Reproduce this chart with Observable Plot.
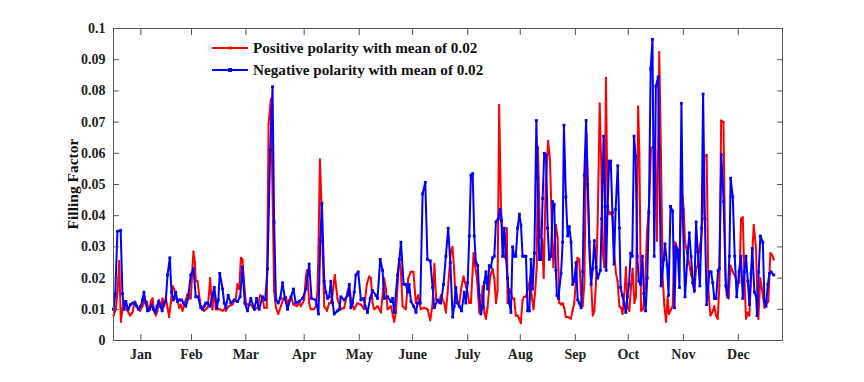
<!DOCTYPE html>
<html>
<head>
<meta charset="utf-8">
<script src="https://cdn.jsdelivr.net/npm/d3@7"></script>
<script src="https://cdn.jsdelivr.net/npm/@observablehq/plot@0.6"></script>
<style>
  html, body { margin: 0; padding: 0; background: #fff; }
  #wrap { position: relative; width: 864px; height: 382px; overflow: hidden; font-family: "Liberation Serif", "DejaVu Serif", serif; }
  #legend { position: absolute; left: 211px; top: 37px; font-weight: bold; font-size: 15.2px; color: #111; }
  .row { display: flex; align-items: center; height: 22px; white-space: nowrap; }
  .row svg { margin-right: 4px; }
  #ylabel { position: absolute; left: 73px; top: 184px; transform: translate(-50%, -50%) rotate(-90deg); font-weight: bold; font-size: 15.5px; white-space: nowrap; color: #111; }
</style>
</head>
<body>
<div id="wrap">
  <div id="chart"></div>
  <div id="legend"></div>
  <div id="ylabel">Filling Factor</div>
</div>
<script>
// Tick positions (day of year) and labels
const monthTicks = [15.3, 43.6, 74, 106.6, 137.4, 167.2, 198, 227.4, 258.2, 287.8, 318.6, 349.3];
const monthLabels = ["Jan", "Feb", "Mar", "Apr", "May", "June", "July", "Aug", "Sep", "Oct", "Nov", "Dec"];
const yTicks = [0, 0.01, 0.02, 0.03, 0.04, 0.05, 0.06, 0.07, 0.08, 0.09, 0.1];
const yTickLabels = ["0", "0.01", "0.02", "0.03", "0.04", "0.05", "0.06", "0.07", "0.08", "0.09", "0.1"];
const seriesNames = ["Positive polarity with mean of 0.02", "Negative polarity with mean of 0.02"];

// Positive polarity: [day, filling factor]
const positive = [[0,0.008],[1.3,0.010],[2.3,0.016],[3.2,0.0255],[4.1,0.006],[5.6,0.0125],[6.9,0.0125],[7.8,0.0095],[9.3,0.008],[10.6,0.009],[11.9,0.0125],[13.4,0.0105],[14.9,0.0095],[16.2,0.011],[17.1,0.013],[18.6,0.0125],[19.9,0.0095],[20.9,0.0125],[21.8,0.0135],[22.7,0.0095],[23.7,0.008],[24.6,0.0095],[25.5,0.013],[26.5,0.0105],[27.4,0.0135],[28.3,0.011],[29.2,0.0135],[30.2,0.0105],[31.1,0.0075],[32,0.012],[33,0.0175],[33.9,0.0165],[34.8,0.0135],[35.8,0.013],[36.7,0.0105],[37.6,0.0115],[38.6,0.0095],[39.5,0.0115],[40.4,0.013],[41.4,0.015],[42.3,0.0145],[43.2,0.0135],[44.2,0.024],[44.7,0.0285],[45.5,0.025],[46,0.019],[47,0.019],[47.9,0.0145],[48.8,0.011],[49.8,0.0105],[50.7,0.0095],[51.6,0.010],[52.6,0.0105],[53.5,0.0155],[54,0.020],[54.6,0.015],[55.3,0.010],[56.3,0.0165],[57.2,0.010],[58.3,0.010],[59.5,0.010],[61,0.0095],[61.9,0.010],[62.8,0.0095],[63.7,0.0105],[64.6,0.011],[66.5,0.0115],[68.4,0.0135],[69.3,0.018],[70.3,0.0165],[71.2,0.0265],[72.1,0.026],[73,0.0185],[74,0.012],[74.9,0.0115],[76.8,0.0115],[78.6,0.010],[80.5,0.0105],[82,0.0145],[83.3,0.0135],[84.3,0.0105],[85.7,0.0105],[86.7,0.0695],[88,0.0775],[88.9,0.0475],[89.8,0.016],[90.8,0.0105],[92.1,0.0085],[93.6,0.011],[95,0.0135],[96.4,0.014],[97.3,0.0115],[98.2,0.013],[99.5,0.0135],[100.6,0.0115],[102.5,0.011],[103.8,0.012],[104.7,0.011],[105.7,0.012],[106.6,0.013],[107.5,0.020],[108.1,0.0225],[108.8,0.0175],[109.4,0.012],[110.3,0.010],[112,0.010],[113.1,0.011],[114,0.0155],[114.6,0.030],[115.4,0.058],[116.3,0.043],[117,0.027],[117.8,0.011],[119.3,0.0095],[120.6,0.012],[121.5,0.012],[122.5,0.015],[123.7,0.021],[125.2,0.0135],[127.1,0.010],[129,0.0105],[130.8,0.0155],[131.8,0.0175],[133.1,0.012],[134.6,0.010],[136.4,0.012],[138.3,0.0115],[140.1,0.010],[141.6,0.018],[142.9,0.0205],[143.9,0.020],[144.8,0.012],[145.7,0.010],[147.6,0.011],[149.5,0.009],[151.3,0.020],[152.3,0.0165],[153.2,0.010],[155.1,0.011],[156.9,0.006],[157.9,0.009],[159.7,0.026],[160.6,0.023],[161.6,0.011],[163.4,0.010],[164.8,0.020],[166.2,0.022],[167.7,0.022],[169,0.012],[170.3,0.0145],[171.8,0.010],[173.7,0.0105],[175.6,0.010],[177.1,0.0065],[178.4,0.012],[179.4,0.0245],[180.4,0.013],[182,0.012],[183,0.0145],[184.9,0.012],[185.8,0.009],[186.8,0.0155],[188.6,0.0285],[189.5,0.030],[190.4,0.023],[191.4,0.012],[193.3,0.012],[194.6,0.0175],[195.7,0.0205],[197,0.0175],[197.9,0.0155],[198.9,0.012],[199.8,0.012],[201.3,0.028],[202.1,0.024],[203.2,0.020],[204.5,0.009],[205.4,0.010],[206.4,0.0175],[207.3,0.009],[208.2,0.007],[209.1,0.0105],[210.6,0.0205],[211.9,0.023],[212.9,0.020],[213.8,0.012],[214.7,0.016],[215.6,0.0755],[216.6,0.043],[217.5,0.0325],[218.4,0.027],[219.4,0.026],[219.9,0.036],[220.3,0.012],[221.3,0.0165],[222.2,0.0155],[223.1,0.0135],[224,0.0135],[224.9,0.008],[225.9,0.008],[226.8,0.007],[227.7,0.0055],[228.7,0.013],[229.6,0.014],[230.5,0.014],[231.8,0.0165],[233,0.020],[233.7,0.0145],[234.8,0.010],[235.7,0.0155],[236.6,0.0235],[237.3,0.062],[238.4,0.033],[239.6,0.0325],[240.5,0.020],[241.6,0.050],[243,0.064],[244,0.058],[245.1,0.036],[245.9,0.0235],[247.3,0.037],[248.3,0.033],[249.2,0.012],[250.2,0.0115],[251.1,0.012],[252,0.0105],[252.9,0.0075],[253.9,0.0075],[255.7,0.007],[256.6,0.0095],[257.6,0.012],[259.4,0.0265],[260.4,0.026],[261.3,0.015],[262.3,0.011],[263.2,0.018],[264.4,0.066],[265.3,0.047],[266.2,0.026],[267,0.019],[267.9,0.008],[268.8,0.0095],[269.7,0.018],[270.7,0.0385],[271.8,0.076],[272.6,0.058],[273.4,0.029],[274.4,0.0235],[275.3,0.0842],[276.2,0.043],[277.2,0.0405],[278.1,0.041],[279,0.0395],[279.9,0.028],[280.9,0.0215],[281.8,0.019],[282.8,0.011],[283.7,0.0105],[284.6,0.0085],[285.6,0.015],[286.5,0.0235],[287.4,0.0105],[288.4,0.0095],[289.3,0.017],[290.2,0.023],[291.2,0.012],[292.1,0.014],[292.6,0.039],[293.3,0.075],[294,0.060],[294.9,0.0095],[296,0.010],[297.1,0.016],[298.2,0.034],[299.5,0.0445],[300.5,0.0615],[301.4,0.062],[302.3,0.062],[302.9,0.061],[303.8,0.032],[305.1,0.0925],[306.1,0.058],[307,0.020],[307.9,0.0115],[308.9,0.006],[309.8,0.014],[310.5,0.0085],[311.7,0.010],[312.6,0.011],[313.6,0.0315],[314.5,0.031],[315.4,0.026],[316.4,0.027],[317.8,0.0475],[318.8,0.042],[319.5,0.0315],[320.6,0.0285],[321.9,0.0245],[322.9,0.021],[323.8,0.020],[324.7,0.0155],[325.7,0.023],[326.6,0.024],[327.5,0.0295],[328.5,0.0325],[329.4,0.041],[330.3,0.059],[331.6,0.0595],[332.6,0.0155],[333.7,0.008],[334.7,0.009],[335.9,0.011],[336.8,0.008],[337.8,0.007],[338.7,0.0175],[339.7,0.0705],[341,0.070],[342.1,0.021],[342.8,0.0145],[343.9,0.0135],[344.9,0.024],[346.2,0.022],[347.3,0.021],[348.6,0.0185],[349.9,0.0185],[350.8,0.039],[351.8,0.0395],[352.7,0.020],[353.6,0.007],[354.6,0.009],[355.5,0.008],[356.4,0.020],[357.9,0.037],[359.2,0.0295],[359.9,0.0135],[360.5,0.007],[361.6,0.020],[363,0.0145],[363.9,0.0105],[365.4,0.012],[366.1,0.0125],[367.2,0.028],[368.2,0.0275],[369.1,0.026]];

// Negative polarity: [day, filling factor]
const negative = [[0,0.010],[1,0.015],[2.2,0.035],[4,0.0353],[5,0.015],[6,0.010],[6.9,0.0125],[8.2,0.010],[9.5,0.0115],[10.8,0.012],[12,0.012],[13,0.011],[14,0.010],[15.2,0.011],[16.2,0.013],[17,0.0155],[18,0.012],[19,0.0095],[20.2,0.010],[21.3,0.0115],[22.3,0.010],[23.3,0.009],[24.3,0.011],[25.2,0.0125],[26.2,0.011],[27.2,0.0095],[28.2,0.012],[29.2,0.0125],[30.2,0.021],[31.5,0.0265],[32.4,0.0155],[33.5,0.013],[34.8,0.0155],[35.8,0.0125],[36.8,0.013],[38,0.013],[39.2,0.012],[40.4,0.011],[41.7,0.0135],[43.2,0.021],[44.7,0.023],[46,0.014],[47.3,0.014],[48.8,0.0105],[49.8,0.010],[50.7,0.011],[51.6,0.012],[52.6,0.012],[54,0.011],[55.3,0.0145],[56.3,0.017],[57.8,0.0105],[58.6,0.013],[59.4,0.0215],[61,0.0165],[61.9,0.012],[62.8,0.0105],[64.1,0.0145],[65.6,0.012],[67.5,0.013],[69.3,0.0125],[70.8,0.014],[72.1,0.0235],[73.4,0.012],[74.9,0.0095],[76.8,0.0135],[78.7,0.010],[80,0.0135],[81.4,0.010],[83.3,0.014],[84.8,0.013],[86.1,0.023],[87.6,0.061],[88.9,0.0813],[89.8,0.038],[90.8,0.013],[92.1,0.012],[93.2,0.0135],[94.5,0.0185],[95.8,0.0135],[97.3,0.010],[99.2,0.014],[100.6,0.0165],[101.9,0.012],[103.8,0.0125],[105.7,0.0135],[107.6,0.0165],[109.4,0.0245],[110.7,0.0135],[113.1,0.013],[114.6,0.0085],[115.6,0.032],[116.5,0.044],[117.8,0.019],[118.7,0.0155],[119.7,0.0135],[120.6,0.014],[121.5,0.019],[122.5,0.012],[123.4,0.0085],[125.3,0.0095],[126.2,0.010],[127.1,0.014],[129,0.013],[130.9,0.0145],[131.8,0.018],[132.7,0.0105],[133.6,0.012],[134.6,0.0155],[135.5,0.021],[136.8,0.022],[138.3,0.013],[139.8,0.0135],[140.7,0.011],[142,0.009],[143.5,0.0135],[144.8,0.016],[146.7,0.0145],[147.6,0.0135],[149.1,0.026],[150.4,0.0225],[151.4,0.0135],[153.2,0.014],[155.1,0.0125],[156,0.0135],[156.9,0.009],[158.8,0.021],[159.8,0.026],[160.7,0.0315],[162.2,0.018],[163.5,0.018],[164.4,0.0155],[165.3,0.018],[166.3,0.0125],[167.8,0.011],[169.1,0.009],[170,0.012],[171.5,0.012],[172.8,0.047],[174.3,0.0507],[175.5,0.026],[177.1,0.0255],[178.4,0.017],[179.3,0.0105],[181.2,0.013],[183,0.012],[184.5,0.018],[185.8,0.027],[187.1,0.036],[188.3,0.025],[189.6,0.0075],[190.5,0.011],[191.4,0.017],[192.4,0.012],[193.3,0.011],[194.6,0.0095],[196.1,0.0155],[197,0.012],[198,0.0185],[198.9,0.0335],[199.8,0.053],[200.8,0.0535],[201.7,0.0335],[202.6,0.025],[203.6,0.024],[204.5,0.0145],[205.4,0.0085],[206.4,0.011],[207.3,0.0185],[208.2,0.022],[209.1,0.0165],[210.1,0.024],[211,0.0235],[211.9,0.0265],[212.9,0.027],[213.8,0.038],[215.1,0.039],[216.2,0.042],[216.9,0.0385],[217.5,0.027],[218.5,0.036],[219.4,0.027],[220.3,0.020],[221.3,0.012],[222.2,0.009],[223.1,0.030],[224,0.027],[224.9,0.027],[225.9,0.036],[226.9,0.0405],[227.8,0.037],[228.7,0.027],[229.7,0.027],[230.6,0.027],[231.5,0.0095],[232.5,0.0095],[233.4,0.026],[234.3,0.0165],[235.3,0.028],[236.4,0.0705],[237.1,0.052],[238,0.026],[239,0.026],[239.9,0.0455],[240.8,0.060],[241.8,0.0595],[242.7,0.036],[243.6,0.026],[244.6,0.027],[245.5,0.0445],[246.4,0.0435],[247.3,0.0225],[247.9,0.0145],[248.7,0.0135],[250.2,0.0215],[251.1,0.0315],[251.8,0.069],[252.9,0.046],[253.9,0.0335],[254.8,0.0365],[255.8,0.0315],[256.7,0.018],[257.6,0.019],[258.6,0.025],[259.5,0.013],[260.4,0.012],[261.4,0.0105],[262.3,0.022],[263.2,0.053],[264.2,0.0705],[265.1,0.050],[266,0.0315],[267,0.018],[267.9,0.023],[268.8,0.032],[269.8,0.0235],[270.7,0.020],[272.2,0.0225],[272.9,0.039],[274,0.0655],[274.8,0.043],[275.4,0.0225],[276.2,0.043],[277.1,0.0575],[278,0.0575],[278.9,0.041],[279.8,0.0245],[280.7,0.042],[281.9,0.056],[282.8,0.036],[283.5,0.017],[284.4,0.0145],[285.4,0.012],[286.4,0.009],[287.3,0.014],[288.2,0.018],[289.1,0.028],[290,0.027],[291,0.0655],[291.9,0.059],[292.8,0.027],[293.7,0.019],[294.7,0.018],[295.7,0.027],[296.5,0.015],[297.5,0.0095],[298.4,0.020],[299.3,0.041],[300.3,0.087],[301.3,0.0965],[302.3,0.027],[303.2,0.0815],[304.5,0.0845],[306.1,0.0175],[307.6,0.026],[308.3,0.031],[309.5,0.024],[310.3,0.0145],[311.4,0.043],[312.6,0.0415],[313.6,0.0105],[314.5,0.030],[315.4,0.029],[316.4,0.017],[317.5,0.076],[318.2,0.042],[319.5,0.014],[321,0.028],[321.9,0.0345],[322.9,0.027],[323.8,0.0185],[324.7,0.016],[325.7,0.038],[326.6,0.0285],[327.8,0.0175],[328.8,0.036],[329.6,0.079],[330.6,0.039],[331.6,0.0115],[333.1,0.022],[334.1,0.022],[335,0.0185],[335.9,0.0135],[336.9,0.0135],[338,0.0225],[338.7,0.023],[339.8,0.0595],[341.1,0.0445],[342.3,0.0175],[343.4,0.014],[344.3,0.027],[345,0.052],[346.2,0.046],[347.3,0.027],[348.4,0.014],[349.7,0.022],[350.8,0.027],[351.8,0.0135],[352.7,0.022],[353.6,0.027],[354.6,0.019],[355.5,0.0115],[356.4,0.0215],[357.1,0.0295],[358.3,0.0155],[359.2,0.0145],[359.8,0.008],[360.7,0.022],[361.6,0.0335],[363,0.0315],[363.9,0.0125],[364.8,0.011],[365.8,0.018],[366.7,0.0215],[367.6,0.022],[369.1,0.021]];

const posData = positive.map(([day, value]) => ({day, value}));
const negData = negative.map(([day, value]) => ({day, value}));

const axisColor = "#555";
const fontStyle = {fontFamily: "'Liberation Serif', 'DejaVu Serif', serif", fontWeight: "bold", fontSize: "14px"};

const chart = Plot.plot({
  width: 864,
  height: 382,
  marginLeft: 113,
  marginRight: 82,
  marginTop: 28,
  marginBottom: 42,
  style: {background: "#fff", color: "#000", ...fontStyle},
  x: {domain: [0, 374], axis: null, label: null},
  y: {domain: [0, 0.1], axis: null, label: null},
  marks: [
    Plot.line(posData, {x: "day", y: "value", stroke: "#ff0000", strokeWidth: 2, curve: "linear"}),
    Plot.dot(posData, {x: "day", y: "value", r: 1, fill: "#ff0000", stroke: "none"}),
    Plot.line(negData, {x: "day", y: "value", stroke: "#0000ff", strokeWidth: 2, curve: "linear"}),
    Plot.dot(negData, {x: "day", y: "value", r: 1.6, symbol: "square", fill: "#0000ff", stroke: "none"}),
    Plot.axisX(monthTicks, {anchor: "bottom", tickSize: 6, dy: -6, tickPadding: 9, stroke: axisColor, fill: "#222",
      tickFormat: d => monthLabels[monthTicks.indexOf(d)], label: null}),
    Plot.axisX(monthTicks, {anchor: "top", tickSize: 6, dy: 6, stroke: axisColor, fill: "none", tickFormat: () => "", label: null}),
    Plot.axisY(yTicks, {anchor: "left", tickSize: 6, dx: 6, tickPadding: 8, stroke: axisColor, fill: "#222",
      tickFormat: d => yTickLabels[yTicks.indexOf(d)], label: null}),
    Plot.axisY(yTicks, {anchor: "right", tickSize: 6, dx: -6, stroke: axisColor, fill: "none", tickFormat: () => "", label: null}),
    Plot.frame({stroke: axisColor, strokeWidth: 1})
  ]
});
document.getElementById("chart").appendChild(chart);

// Legend (MATLAB style, no box)
const legendColors = ["#ff0000", "#0000ff"];
const legend = d3.select("#legend");
seriesNames.forEach((name, i) => {
  const row = legend.append("div").attr("class", "row");
  const s = row.append("svg").attr("width", 38).attr("height", 12);
  s.append("line").attr("x1", 1).attr("x2", 37).attr("y1", 6).attr("y2", 6)
    .attr("stroke", legendColors[i]).attr("stroke-width", 2);
  if (i === 0) s.append("circle").attr("cx", 19).attr("cy", 6).attr("r", 1.8).attr("fill", legendColors[i]);
  else s.append("rect").attr("x", 17).attr("y", 4).attr("width", 4).attr("height", 4).attr("fill", legendColors[i]);
  row.append("span").text(name);
});
</script>
</body>
</html>
